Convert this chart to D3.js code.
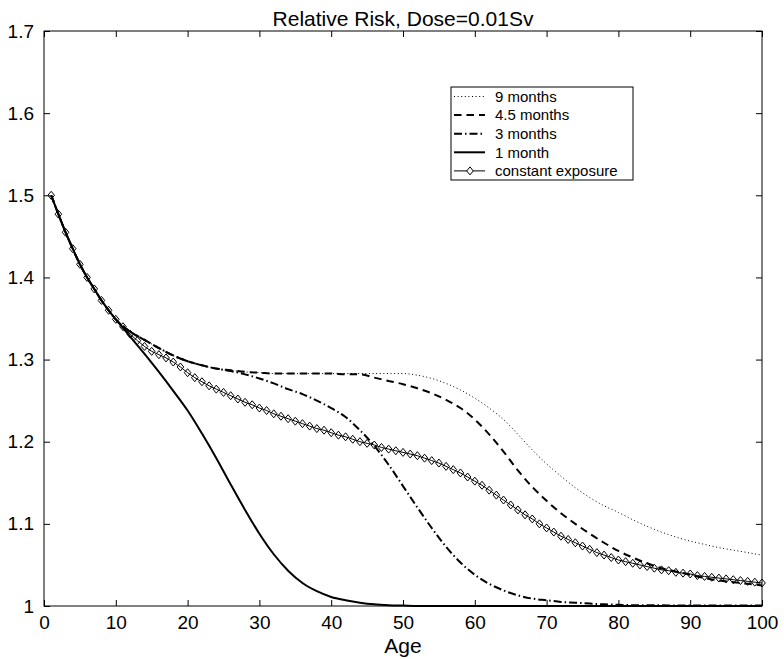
<!DOCTYPE html>
<html><head><meta charset="utf-8">
<script src="https://cdn.jsdelivr.net/npm/d3@7"></script>
<style>body{margin:0;background:#fff}svg{display:block}text{font-family:"Liberation Sans",Arial,Helvetica,sans-serif;fill:#000}</style>
</head><body><svg id="c" width="784" height="659"></svg>
<script>
// ---- data ----
const title = "Relative Risk, Dose=0.01Sv";
const xLabel = "Age";
const xTicks = [0,10,20,30,40,50,60,70,80,90,100];
const yTicks = [1,1.1,1.2,1.3,1.4,1.5,1.6,1.7];
const yTickLabels = ["1","1.1","1.2","1.3","1.4","1.5","1.6","1.7"];
const seriesNames = ["9 months","4.5 months","3 months","1 month","constant exposure"];

// grid of ages for the smooth curves
const ages = [1,2,3,4,5,6,7,8,9,10,12,14,16,18,20,22,24,26,28,30,32,34,36,38,40,42,44,46,48,50,
  52,54,56,58,60,62,64,66,68,70,72,74,76,78,80,82,84,86,88,90,92,94,96,98,100];

const months9 = [1.5,1.477,1.455,1.435,1.416,1.4,1.386,1.372,1.36,1.349,1.334,1.324,1.314,1.305,1.298,1.293,1.289,1.287,1.285,1.284,
  1.283,1.283,1.283,1.283,1.283,1.283,1.283,1.283,1.283,1.283,
  1.281,1.277,1.271,1.263,1.253,1.241,1.227,1.209,1.19,1.173,1.158,1.144,1.132,1.122,1.114,1.105,1.097,1.09,1.084,1.079,1.075,1.071,1.068,1.065,1.062];
const months45 = [1.5,1.477,1.455,1.435,1.416,1.4,1.386,1.372,1.36,1.349,1.334,1.324,1.314,1.305,1.298,1.293,1.289,1.287,1.285,1.284,
  1.283,1.283,1.283,1.283,1.283,1.282,1.282,1.278,1.274,1.27,
  1.265,1.259,1.251,1.241,1.227,1.209,1.188,1.165,1.145,1.128,1.113,1.1,1.088,1.077,1.067,1.059,1.052,1.046,1.042,1.038,1.034,1.031,1.029,1.027,1.025];
const months3 = [1.5,1.477,1.455,1.435,1.416,1.4,1.386,1.372,1.36,1.349,1.334,1.324,1.314,1.305,1.298,1.293,1.289,1.286,1.282,1.277,
  1.271,1.264,1.258,1.25,1.241,1.23,1.214,1.195,1.172,1.146,
  1.12,1.095,1.072,1.053,1.038,1.027,1.019,1.013,1.009,1.007,1.005,1.004,1.003,1.002,1.0015,1.001,1.001,1.001,1.0005,1.0005,1.0005,1.0005,1.0005,1.0005,1.0005];
const month1 = [1.5,1.477,1.455,1.435,1.416,1.4,1.386,1.372,1.36,1.349,1.328,1.307,1.285,1.262,1.238,1.21,1.18,1.148,1.117,1.088,
  1.063,1.043,1.028,1.018,1.011,1.007,1.004,1.002,1.001,1.0005,
  1,1,1,1,1,1,1,1,1,1,1,1,1,1,1,1,1,1,1,1,1,1,1,1,1];

// constant exposure: one marker per year, ages 1..100
const constAges = [1,2,3,4,5,6,7,8,9,10,11,12,13,14,15,16,17,18,19,20,21,22,23,24,25,26,27,28,29,30,
  31,32,33,34,35,36,37,38,39,40,41,42,43,44,45,46,47,48,49,50,51,52,53,54,55,56,57,58,59,60,
  61,62,63,64,65,66,67,68,69,70,71,72,73,74,75,76,77,78,79,80,81,82,83,84,85,86,87,88,89,90,
  91,92,93,94,95,96,97,98,99,100];
const constExp = [1.5,1.477,1.455,1.435,1.416,1.4,1.386,1.372,1.36,1.349,1.34,1.331,1.323,1.316,1.31,1.306,1.302,1.297,1.291,1.284,
  1.278,1.273,1.268,1.264,1.26,1.256,1.252,1.248,1.245,1.241,1.238,1.234,1.231,1.228,1.225,1.222,1.219,1.216,1.214,1.211,
  1.208,1.206,1.203,1.2,1.198,1.196,1.193,1.191,1.189,1.187,1.185,1.183,1.18,1.177,1.174,1.17,1.166,1.162,1.157,1.152,
  1.147,1.141,1.135,1.129,1.123,1.117,1.111,1.106,1.1,1.095,1.09,1.085,1.081,1.077,1.073,1.069,1.065,1.062,1.059,1.056,
  1.054,1.052,1.05,1.048,1.046,1.044,1.043,1.041,1.04,1.039,1.037,1.036,1.035,1.034,1.033,1.032,1.031,1.03,1.029,1.028];

// ---- drawing ----
const svg = d3.select("#c");
const L = 44, R = 762, T = 31, B = 606;
const x = d3.scaleLinear().domain([0,100]).range([L,R]);
const y = d3.scaleLinear().domain([1,1.7]).range([B,T]);
const tickFont = "19px";

svg.append("defs").append("clipPath").attr("id","pc")
  .append("rect").attr("x",L).attr("y",T-2).attr("width",R-L+2).attr("height",B-T+4);

const plot = svg.append("g").attr("clip-path","url(#pc)");
const line = d3.line().x((d)=>x(d[0])).y((d)=>y(d[1])).curve(d3.curveMonotoneX);
const styles = [
  {data: months9, w: 1, dash: "1,2.6"},
  {data: months45, w: 2, dash: "7.5,5"},
  {data: months3, w: 2, dash: "8,3,1.5,3"},
  {data: month1, w: 2, dash: null},
];
styles.forEach(s => {
  plot.append("path").datum(ages.map((a,i)=>[a,s.data[i]]))
    .attr("d", line).attr("fill","none").attr("stroke","#000")
    .attr("stroke-width", s.w).attr("stroke-dasharray", s.dash);
});
const cpts = constAges.map((a,i)=>[a,constExp[i]]);
plot.append("path").datum(cpts).attr("d", d3.line().x(d=>x(d[0])).y(d=>y(d[1])))
  .attr("fill","none").attr("stroke","#000").attr("stroke-width",1);
const diamond = (cx,cy)=>`M${cx},${cy-4}L${cx+3.3},${cy}L${cx},${cy+4}L${cx-3.3},${cy}Z`;
svg.append("g").selectAll("path").data(cpts).join("path")
  .attr("d", d=>diamond(x(d[0]),y(d[1]))).attr("fill","none").attr("stroke","#000").attr("stroke-width",1);

// axes box
const ax = svg.append("g");
ax.append("rect").attr("x",L).attr("y",T).attr("width",R-L).attr("height",B-T)
  .attr("fill","none").attr("stroke","#000").attr("stroke-width",1);
const axB = d3.axisBottom(x).tickValues(xTicks).tickSize(-6).tickPadding(10).tickFormat(d3.format("d"));
const gB = ax.append("g").attr("transform",`translate(0,${B})`).call(axB);
const axT = d3.axisTop(x).tickValues(xTicks).tickSize(-6).tickFormat("");
const gT = ax.append("g").attr("transform",`translate(0,${T})`).call(axT);
const axL = d3.axisLeft(y).tickValues(yTicks).tickSize(-6).tickPadding(10).tickFormat((d,i)=>yTickLabels[i]);
const gL = ax.append("g").attr("transform",`translate(${L},0)`).call(axL);
const axR = d3.axisRight(y).tickValues(yTicks).tickSize(-6).tickFormat("");
const gR = ax.append("g").attr("transform",`translate(${R},0)`).call(axR);
[gB,gT,gL,gR].forEach(g=>{ g.select(".domain").remove(); g.selectAll("line").attr("stroke","#000");
  g.selectAll("text").style("font-size",tickFont).style("font-family",'"Liberation Sans",Arial,sans-serif').attr("fill","#000"); });
gB.selectAll("text").attr("dy","0.71em");

svg.append("text").attr("x",(L+R)/2).attr("y",26).attr("text-anchor","middle")
  .style("font-size","21px").text(title);
svg.append("text").attr("x",(L+R)/2).attr("y",653).attr("text-anchor","middle")
  .style("font-size","21px").text(xLabel);

// legend
const lg = svg.append("g");
const lx = 451, ly = 87, lw = 182, lh = 93, rowH = 18.6;
lg.append("rect").attr("x",lx).attr("y",ly).attr("width",lw).attr("height",lh)
  .attr("fill","#fff").attr("stroke","#000").attr("stroke-width",1);
const legStyles = styles.concat([{w:1, dash:null, marker:true}]);
seriesNames.forEach((n,i)=>{
  const cy = ly + 9.5 + i*rowH;
  const s = legStyles[i];
  lg.append("line").attr("x1",lx+3).attr("x2",lx+34).attr("y1",cy).attr("y2",cy)
    .attr("stroke","#000").attr("stroke-width",s.w).attr("stroke-dasharray",s.dash);
  if (s.marker) lg.append("path").attr("d",diamond(lx+19,cy)).attr("fill","#fff").attr("stroke","#000");
  lg.append("text").attr("x",lx+44).attr("y",cy).attr("dy","0.35em").style("font-size","15px").text(n);
});
</script></body></html>
